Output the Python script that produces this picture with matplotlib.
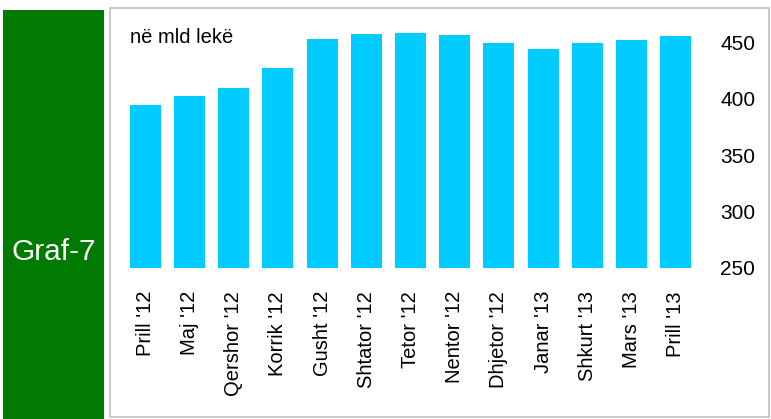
import matplotlib
matplotlib.use("Agg")
import matplotlib.pyplot as plt
from matplotlib.patches import Rectangle

# monthly values, in billion lek
MONTHS = ["Prill '12", "Maj '12", "Qershor '12", "Korrik '12", "Gusht '12",
          "Shtator '12", "Tetor '12", "Nentor '12", "Dhjetor '12", "Janar '13",
          "Shkurt '13", "Mars '13", "Prill '13"]
VALUES = [394.6, 402.3, 409.7, 427.2, 453.6, 457.7, 458.6, 457.1,
          450.0, 444.1, 449.5, 452.1, 456.2]
Y_TICKS = [250, 300, 350, 400, 450]

W, H = 771, 419
BAR_COLOR = "#00CCFF"
GREEN = "#007A00"

plt.rcParams["font.family"] = ["Liberation Sans", "DejaVu Sans"]

fig = plt.figure(figsize=(W / 100, H / 100), dpi=100)

# green side box with the chart number
fig.patches.append(Rectangle((3 / W, 0), 101 / W, 1 - 10 / H,
                             transform=fig.transFigure, facecolor=GREEN,
                             edgecolor="none", zorder=-1))
fig.text(54 / W, 1 - 252 / H, "Graf-7", color="white", fontsize=21.5,
         ha="center", va="center")

# grey frame around the chart panel
fig.patches.append(Rectangle((110 / W, 2 / H), 659 / W, 1 - 10 / H,
                             transform=fig.transFigure, facecolor="none",
                             edgecolor="#C0C0C0", linewidth=1.2, zorder=-1))

bottom = (H - 267.5) / H
top = (H - 20.2) / H
ax = fig.add_axes([123 / W, bottom, (698 - 123) / W, top - bottom])
ax.set_facecolor("none")

x = range(len(MONTHS))
ax.bar(x, [v - 250 for v in VALUES], bottom=250, width=0.7, color=BAR_COLOR)

ax.set_xlim(-0.5, len(MONTHS) - 0.5)
ax.set_ylim(250, 470)
ax.set_yticks(Y_TICKS)
ax.yaxis.tick_right()
ax.tick_params(axis="y", length=0, pad=16, labelsize=15)
ax.set_xticks(list(x))
ax.set_xticklabels(MONTHS, rotation=90)
ax.tick_params(axis="x", length=0, pad=17, labelsize=14.5)
for s in ax.spines.values():
    s.set_visible(False)

fig.text(130 / W, 1 - 43 / H, "në mld lekë", fontsize=14.5, va="baseline")

fig.savefig("out.png", dpi=100)
